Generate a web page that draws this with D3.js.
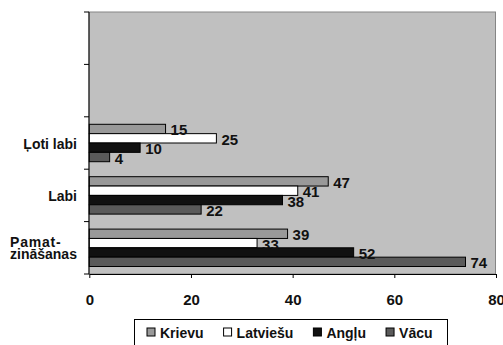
<!DOCTYPE html>
<html>
<head>
<meta charset="utf-8">
<script src="https://cdn.jsdelivr.net/npm/d3@7"></script>
<style>
  html, body { margin: 0; padding: 0; background: #ffffff; }
  svg { display: block; font-family: "Liberation Sans", Arial, sans-serif; font-weight: bold; }
</style>
</head>
<body>
<svg id="chart" width="503" height="345"></svg>
<script>
// Knowledge level categories (top to bottom); the first two rows are empty
const categories = ["", " ", "Ļoti labi", "Labi", "Pamat-zināšanas"];
const categoryLines = [[], [], ["Ļoti labi"], ["Labi"], ["Pamat-", "zināšanas"]];
// Languages (series)
const series = ["Krievu", "Latviešu", "Angļu", "Vācu"];
// Values per series, aligned with categories
const krievu   = [null, null, 15, 47, 39];
const latviesu = [null, null, 25, 41, 33];
const anglu    = [null, null, 10, 38, 52];
const vacu     = [null, null, 4, 22, 74];
const xTicks = [0, 20, 40, 60, 80];

const seriesValues = [krievu, latviesu, anglu, vacu];
const colors = ["#999999", "#ffffff", "#111111", "#5a5a5a"];

const svg = d3.select("#chart");
const plot = { left: 89, right: 495.5, top: 12, bottom: 274 };

const x = d3.scaleLinear().domain([0, 80]).range([89.3, 496]);
const y = d3.scaleBand().domain(categories)
  .range([plot.top, plot.bottom])
  .paddingInner(0.286).paddingOuter(0.143);
const ySub = d3.scaleBand().domain(series).range([0, y.bandwidth()]);

// Plot area background
svg.append("rect")
  .attr("x", plot.left).attr("y", plot.top)
  .attr("width", plot.right - plot.left).attr("height", plot.bottom - plot.top)
  .attr("fill", "#c0c0c0").attr("stroke", "#858585").attr("stroke-width", 1);

// Bars
const rows = [];
categories.forEach((c, ci) => {
  series.forEach((s, si) => {
    const v = seriesValues[si][ci];
    if (v != null) rows.push({ c, s, si, v });
  });
});

svg.append("g").selectAll("rect").data(rows).join("rect")
  .attr("x", x(0))
  .attr("y", d => y(d.c) + ySub(d.s))
  .attr("width", d => x(d.v) - x(0))
  .attr("height", ySub.bandwidth())
  .attr("fill", d => colors[d.si])
  .attr("stroke", "#000").attr("stroke-width", 1);

// Value labels
svg.append("g").selectAll("text").data(rows).join("text")
  .attr("x", d => x(d.v) + 5)
  .attr("y", d => y(d.c) + ySub(d.s) + ySub.bandwidth() / 2 + 1)
  .attr("dominant-baseline", "central")
  .attr("font-size", 15)
  .attr("fill", "#111")
  .text(d => d.v);

// Category axis
const yAxis = svg.append("g");
yAxis.append("line")
  .attr("x1", plot.left).attr("x2", plot.left)
  .attr("y1", plot.top).attr("y2", plot.bottom)
  .attr("stroke", "#000");
const bounds = categories.map(c => y(c) - y.step() * y.paddingInner() / 2).concat([plot.bottom]);
yAxis.selectAll("line.tick").data(bounds).join("line")
  .attr("class", "tick")
  .attr("x1", plot.left - 5).attr("x2", plot.left)
  .attr("y1", d => d).attr("y2", d => d)
  .attr("stroke", "#000");

categories.forEach((c, ci) => {
  const lines = categoryLines[ci];
  if (!lines.length) return;
  const cy = y(c) + y.bandwidth() / 2;
  if (lines.length === 1) {
    svg.append("text")
      .attr("x", 77).attr("y", cy + 1)
      .attr("text-anchor", "end")
      .attr("dominant-baseline", "central")
      .attr("font-size", 14)
      .attr("fill", "#111")
      .text(lines[0]);
  } else {
    lines.forEach((t, i) => {
      svg.append("text")
        .attr("x", 10).attr("y", cy + (i - (lines.length - 1) / 2) * 12 + 0.5)
        .attr("dominant-baseline", "central")
        .attr("font-size", 14)
        .attr("letter-spacing", i === 0 ? 0.8 : 0)
        .attr("fill", "#111")
        .text(t);
    });
  }
});

// Value axis
const xAxis = svg.append("g")
  .attr("transform", `translate(0,${plot.bottom})`)
  .call(d3.axisBottom(x).tickValues(xTicks).tickSize(4).tickSizeOuter(0).tickPadding(16));
xAxis.select(".domain").attr("stroke", "#000");
xAxis.selectAll(".tick line").attr("stroke", "#000");
xAxis.selectAll(".tick text")
  .attr("font-size", 15)
  .attr("font-family", "Liberation Sans, Arial, sans-serif")
  .attr("font-weight", "bold")
  .attr("fill", "#111");

// Legend
const legend = svg.append("g");
legend.append("rect")
  .attr("x", 134.5).attr("y", 319.5).attr("width", 313).attr("height", 32)
  .attr("fill", "#fff").attr("stroke", "#000");
let lx = 147;
series.forEach((s, i) => {
  legend.append("rect")
    .attr("x", lx).attr("y", 328).attr("width", 8).attr("height", 8)
    .attr("fill", colors[i]).attr("stroke", "#000");
  const t = legend.append("text")
    .attr("x", lx + 13).attr("y", 332.5)
    .attr("dominant-baseline", "central")
    .attr("font-size", 14)
    .attr("fill", "#111")
    .text(s);
  lx += 13 + t.node().getComputedTextLength() + 20;
});
</script>
</body>
</html>
